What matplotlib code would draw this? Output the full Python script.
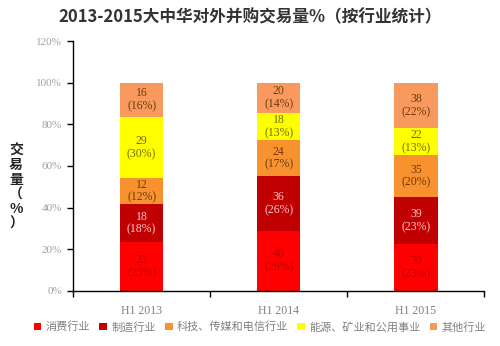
import numpy as np
import matplotlib.pyplot as plt

plt.rcParams['font.family'] = ['Noto Sans CJK SC', 'DejaVu Sans']

# deal counts per sector, stacked bottom to top
periods = ['H1 2013', 'H1 2014', 'H1 2015']
sectors = ['消费行业', '制造行业', '科技、传媒和电信行业', '能源、矿业和公用事业', '其他行业']
consumer = [23, 40, 39]
manufacturing = [18, 36, 39]
tmt = [12, 24, 35]
energy = [29, 18, 22]
other = [16, 20, 38]

colors = ['#FF0000', '#C00000', '#F7922F', '#FFFF00', '#F89A5E']
text_colors = ['#C00000', '#FFC8C8', '#6E3A10', '#6E6E00', '#6E3A10']

counts = np.array([consumer, manufacturing, tmt, energy, other], dtype=float)
share = counts / counts.sum(axis=0) * 100

fig = plt.figure(figsize=(5, 3.46), dpi=100)
ax = fig.add_axes([0.146, 0.159, 0.823, 0.7225])

x = np.arange(len(periods))
bottom = np.zeros(len(periods))
for i in range(len(sectors)):
    ax.bar(x, share[i], 0.315, bottom=bottom, color=colors[i], label=sectors[i])
    for j in range(len(periods)):
        ax.text(x[j], bottom[j] + share[i][j] / 2,
                '%d\n(%d%%)' % (counts[i][j], round(share[i][j])),
                ha='center', va='center', fontsize=8.5, linespacing=1.1,
                color=text_colors[i], family='Liberation Serif')
    bottom += share[i]

ax.set_xlim(-0.5, 2.5)
ax.set_ylim(0, 120)
ax.set_yticks(np.arange(0, 121, 20))
ax.set_yticklabels(['%d%%' % v for v in range(0, 121, 20)],
                   family='Liberation Serif', fontsize=8, color='#A0A0A0')
ax.set_xticks(x)
ax.set_xticklabels(periods, family='Liberation Serif', fontsize=8.5, color='#808080')
ax.tick_params(axis='x', which='major', length=0, pad=10)
ax.set_xticks([-0.5, 0.5, 1.5, 2.5], minor=True)
ax.tick_params(axis='x', which='minor', length=4, direction='out', width=1)
ax.tick_params(axis='y', length=4, direction='out', width=1, pad=4)
for s in ['top', 'right']:
    ax.spines[s].set_visible(False)
for s in ['left', 'bottom']:
    ax.spines[s].set_linewidth(1)

fig.text(0.5, 0.951, '2013-2015大中华对外并购交易量%（按行业统计）',
         ha='center', va='center', fontsize=12, fontweight='bold', color='#333333')
fig.text(0.032, 0.46, '交\n易\n量\n（\n%\n）', ha='center', va='center',
         fontsize=10, fontweight='bold', linespacing=1.05, color='#222222')

fig.legend(loc='center', bbox_to_anchor=(0.52, 0.055), ncol=5, frameon=False,
           fontsize=8, handlelength=0.7, handleheight=0.7, handletextpad=0.4,
           columnspacing=0.8, labelcolor='#808080')

fig.savefig('out.png', dpi=100)
